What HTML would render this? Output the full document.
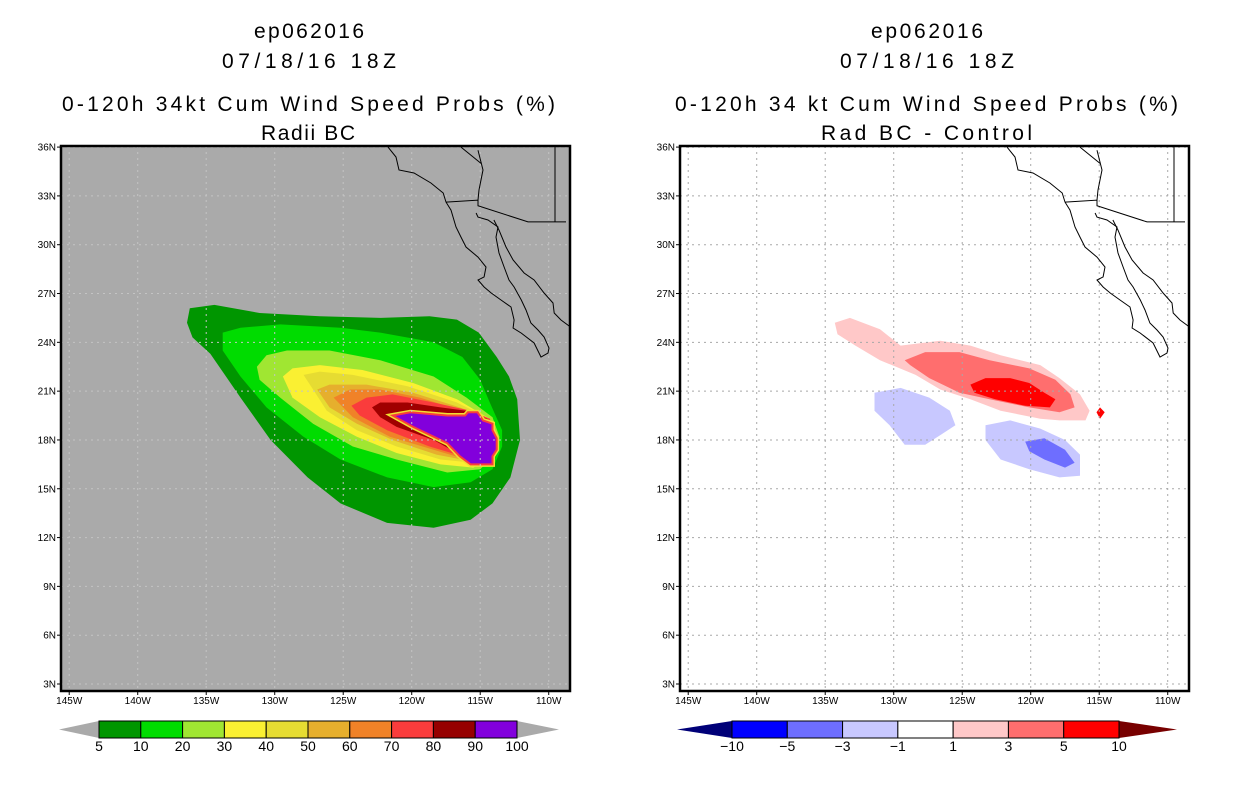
<!DOCTYPE html>
<html><head><meta charset="utf-8"><style>
html,body{margin:0;padding:0;background:#fff}
svg{display:block}
text{font-family:"Liberation Sans",sans-serif}
</style></head><body>
<svg id="fig" width="1236" height="800" viewBox="0 0 1236 800" xmlns="http://www.w3.org/2000/svg">
<rect width="1236" height="800" fill="#fff"/>
<g id="titles">
<text x="254" y="38" font-size="21" textLength="110">ep062016</text>
<text x="222" y="68" font-size="21" textLength="174">07/18/16 18Z</text>
<text x="62" y="111" font-size="21" textLength="493">0-120h 34kt Cum Wind Speed Probs (%)</text>
<text x="261" y="140" font-size="21" textLength="94">Radii BC</text>
<text x="871" y="38" font-size="21" textLength="112">ep062016</text>
<text x="840" y="68" font-size="21" textLength="174">07/18/16 18Z</text>
<text x="675" y="111" font-size="21" textLength="503">0-120h 34 kt Cum Wind Speed Probs (%)</text>
<text x="821" y="140" font-size="21" textLength="211">Rad BC - Control</text>
</g>
</svg>
<script>
// ---- axis ticks ----
const lonTicks = [-145,-140,-135,-130,-125,-120,-115,-110];
const lonLabels = ["145W","140W","135W","130W","125W","120W","115W","110W"];
const latTicks = [3,6,9,12,15,18,21,24,27,30,33,36];
const latLabels = ["3N","6N","9N","12N","15N","18N","21N","24N","27N","30N","33N","36N"];

// ---- left panel: cumulative probability contours (lon,lat) ----
const probLevels = [5,10,20,30,40,50,60,70,80,100];
const probColors = ["#009600","#00dc00","#a0e632","#faf032","#e6dc32","#e6af2d","#f08228","#fa3c3c","#a00000","#8200dc"];
const prob5 = [[-136.2,26.1],[-134.4,26.3],[-131.1,25.8],[-126.7,25.6],[-122.3,25.5],[-118.7,25.6],[-116.7,25.4],[-115.1,24.6],[-113.8,23.1],[-112.9,21.9],[-112.3,20.5],[-112.1,18.0],[-112.8,15.7],[-114.1,14.1],[-115.7,13.1],[-118.4,12.6],[-121.8,12.9],[-125.2,14.1],[-127.6,15.7],[-130.3,18.0],[-132.5,20.6],[-134.7,23.3],[-136.0,24.3],[-136.4,25.2]];
const prob10 = [[-133.8,24.6],[-132.5,24.9],[-129.6,25.1],[-125.2,24.9],[-122.3,24.6],[-118.4,24.0],[-116.3,23.1],[-115.0,21.7],[-114.3,20.3],[-113.4,18.6],[-113.4,17.6],[-114.1,16.2],[-115.7,15.4],[-118.4,15.1],[-121.8,15.7],[-125.2,16.8],[-127.9,18.2],[-130.6,20.0],[-132.5,21.9],[-133.8,23.5]];
const prob20 = [[-131.3,22.5],[-130.6,23.2],[-129.1,23.5],[-126.0,23.5],[-122.3,22.9],[-118.4,21.9],[-116.0,20.6],[-114.1,19.4],[-113.6,18.2],[-113.8,17.2],[-115.0,16.2],[-117.4,16.0],[-121.1,16.8],[-124.3,17.6],[-127.2,19.0],[-129.6,20.6],[-131.1,21.7]];
const prob30 = [[-129.4,21.9],[-128.7,22.4],[-126.7,22.6],[-123.6,22.3],[-119.9,21.5],[-116.7,20.5],[-114.5,19.4],[-113.7,18.2],[-114.1,17.0],[-115.5,16.3],[-117.9,16.5],[-121.1,17.2],[-124.0,18.2],[-126.7,19.4],[-128.7,20.6]];
const prob40 = [[-127.9,22.0],[-126.7,22.2],[-124.3,22.0],[-120.3,21.3],[-116.7,20.3],[-114.3,19.3],[-113.8,18.2],[-114.1,17.0],[-115.5,16.6],[-117.9,16.8],[-121.1,17.6],[-124.0,18.6],[-126.2,19.8],[-127.2,21.1]];
const prob50 = [[-126.9,21.1],[-126.0,21.4],[-123.3,21.4],[-119.9,20.9],[-116.5,20.0],[-114.3,19.3],[-113.8,18.2],[-114.1,17.0],[-115.7,16.7],[-118.2,17.1],[-121.4,18.0],[-124.0,19.0],[-126.0,20.0]];
const prob60 = [[-125.7,20.6],[-124.5,21.1],[-122.3,21.1],[-119.4,20.6],[-116.3,19.8],[-114.3,19.3],[-113.8,18.2],[-114.1,17.0],[-116.0,16.8],[-118.4,17.4],[-121.6,18.2],[-124.3,19.4]];
const prob70 = [[-124.4,20.1],[-123.3,20.6],[-121.4,20.8],[-118.4,20.3],[-115.7,19.8],[-114.3,19.3],[-113.8,18.2],[-114.1,16.8],[-116.3,17.0],[-118.7,17.6],[-121.8,18.6],[-123.8,19.5]];
const prob80 = [[-122.9,20.0],[-122.3,20.3],[-120.3,20.3],[-117.9,20.0],[-116.0,19.8],[-114.5,19.3],[-113.9,18.2],[-114.3,16.8],[-115.7,16.5],[-116.7,17.2],[-118.4,18.0],[-121.1,18.8],[-122.3,19.4]];
const prob100 = [[-121.4,19.5],[-120.1,19.7],[-117.4,19.5],[-116.1,19.5],[-115.9,19.7],[-115.2,19.7],[-114.8,19.2],[-114.1,19.0],[-114.1,18.6],[-113.8,18.1],[-113.8,17.4],[-114.1,17.0],[-114.1,16.5],[-115.7,16.5],[-116.5,17.0],[-117.4,17.8],[-119.9,18.8]];
const probPolys = [prob5,prob10,prob20,prob30,prob40,prob50,prob60,prob70,prob80,prob100];

// ---- right panel: difference contours ----
const diffLevels = [-10,-5,-3,-1,1,3,5,10];
const diffColors = ["#000078","#0000ff","#6e6eff","#c8c8ff","#ffffff","#ffc8c8","#ff6e6e","#ff0000","#780000"];
const diffPos1 = [[-134.3,25.2],[-133.2,25.5],[-131.0,24.8],[-129.5,23.8],[-126.6,24.1],[-124.4,23.8],[-122.2,23.2],[-119.3,22.6],[-117.9,21.8],[-116.4,20.8],[-115.7,19.8],[-116.0,19.2],[-117.9,19.2],[-119.3,19.3],[-122.2,19.8],[-124.4,20.5],[-126.6,21.1],[-128.4,22.0],[-131.0,22.9],[-132.8,23.8],[-134.1,24.5]];
const diffPos3 = [[-129.2,22.9],[-127.7,23.4],[-125.2,23.4],[-123.0,22.9],[-120.1,22.4],[-118.2,21.7],[-117.1,20.8],[-116.8,20.0],[-117.9,19.7],[-120.1,20.0],[-123.0,20.5],[-125.2,20.9],[-127.4,21.8],[-128.8,22.6]];
const diffPos5 = [[-124.4,21.4],[-123.3,21.8],[-121.5,21.8],[-120.1,21.5],[-119.0,20.9],[-118.2,20.5],[-118.6,20.0],[-120.4,20.1],[-122.6,20.5],[-124.1,20.9]];
const diffSpot = [[-115.2,19.7],[-114.94,20.0],[-114.6,19.7],[-114.94,19.3]];
const diffNeg1a = [[-131.4,20.9],[-129.5,21.2],[-127.4,20.6],[-125.9,19.8],[-125.5,18.9],[-126.6,18.3],[-127.7,17.7],[-129.2,17.7],[-130.3,18.9],[-131.4,19.8]];
const diffNeg1b = [[-123.3,18.9],[-121.5,19.2],[-119.3,18.7],[-117.5,18.0],[-116.4,17.1],[-116.4,15.8],[-117.9,15.7],[-120.1,16.2],[-122.2,16.8],[-123.3,18.0]];
const diffNeg3 = [[-120.4,17.9],[-119.0,18.1],[-117.5,17.4],[-116.8,16.6],[-117.5,16.3],[-119.0,16.8],[-120.1,17.3]];

// ---- coastline / borders (lon,lat) ----
const coastPacific = [[-121.73,36.0],[-121.15,35.39],[-120.93,34.59],[-119.83,34.41],[-118.6,33.79],[-117.7,33.18],[-117.5,32.62],[-117.13,32.13],[-116.77,31.09],[-116.4,30.47],[-116.04,29.86],[-115.16,29.24],[-114.58,28.63],[-114.72,28.02],[-115.16,27.83],[-114.72,27.4],[-114.2,27.03],[-113.48,26.6],[-112.75,26.17],[-112.53,25.37],[-112.6,24.88],[-112.0,24.57],[-111.07,23.96],[-110.56,23.1],[-110.05,23.34],[-109.98,23.65],[-110.34,24.33],[-110.78,24.76],[-111.3,25.19],[-111.66,25.99],[-112.0,26.6],[-112.53,27.4],[-112.9,27.83],[-113.26,28.63],[-113.63,29.49],[-113.85,30.47],[-113.7,31.09],[-114.43,31.52],[-115.16,31.7],[-115.3,31.95]];
const coastMainland = [[-114.0,31.52],[-113.63,30.9],[-113.12,29.86],[-112.6,29.06],[-111.8,28.26],[-111.07,27.83],[-110.34,27.03],[-109.69,26.42],[-109.6,25.8],[-109.1,25.37],[-108.5,25.0]];
const riverLine = [[-115.16,35.8],[-114.8,34.59],[-115.09,33.36],[-115.16,32.74]];
const borderUS = [[-117.5,32.62],[-115.16,32.74],[-115.16,32.4],[-111.51,31.4],[-108.74,31.4]];
const borderState = [[-109.54,36.0],[-109.54,31.4]];
const borderDiag = [[-116.4,36.0],[-114.94,35.0]];

const NS = "http://www.w3.org/2000/svg";
const svg = document.getElementById("fig");
const BOX_T = 146, BOX_B = 691, BOX_W = 509;
function mk(tag, attrs, parent){const e=document.createElementNS(NS,tag);for(const k in attrs)e.setAttribute(k,attrs[k]);(parent||svg).appendChild(e);return e;}
function projX(x0){return lon => x0 + (lon + 145.6) * 13.7;}
function projY(lat){return 684 - (lat - 3) * 16.27;}
function pts(arr, px){return arr.map(p => px(p[0]).toFixed(1) + "," + projY(p[1]).toFixed(1)).join(" ");}

function panel(x0, bg, id){
  const px = projX(x0);
  const g = mk("g", {});
  
  
  const cp = mk("clipPath", {id: id + "-clip"}, g);
  mk("rect", {x: x0, y: BOX_T, width: BOX_W, height: BOX_B - BOX_T}, cp);
  const bgR = mk("rect", {x: x0, y: BOX_T, width: BOX_W, height: BOX_B - BOX_T, fill: bg}, g);
  
  
  const inner = mk("g", {"clip-path": "url(#" + id + "-clip)"}, g);
  return {px, g, inner};
}
function drawGrid(P, x0, gridColor){
  lonTicks.forEach((lon, i) => {
    const x = P.px(lon);
    const l = mk("line", {x1: x, x2: x, y1: BOX_T, y2: BOX_B, stroke: gridColor, "stroke-width": 1, "stroke-dasharray": "2,4"}, P.inner);
    
    
    mk("line", {x1: x, x2: x, y1: BOX_B, y2: BOX_B + 4, stroke: "#000"}, P.g);
    const tx = mk("text", {x: x, y: 704, "font-size": 10, "text-anchor": "middle"}, P.g);
    tx.textContent = lonLabels[i];
    
    
  });
  latTicks.forEach((lat, i) => {
    const y = projY(lat);
    const l = mk("line", {x1: x0, x2: x0 + BOX_W, y1: y, y2: y, stroke: gridColor, "stroke-width": 1, "stroke-dasharray": "2,4"}, P.inner);
    
    
    mk("line", {x1: x0 - 4, x2: x0, y1: y, y2: y, stroke: "#000"}, P.g);
    const tx = mk("text", {x: x0 - 5, y: y + 3.5, "font-size": 10, "text-anchor": "end"}, P.g);
    tx.textContent = latLabels[i];
    
    
  });
}
function drawCoast(P){
  [coastPacific, coastMainland, riverLine, borderUS, borderState, borderDiag].forEach(a => {
    const l = mk("polyline", {points: pts(a, P.px), fill: "none", stroke: "#000", "stroke-width": 1}, P.inner);
    
    
  });
}
function frame(x0){
  const f = mk("rect", {x: x0, y: BOX_T, width: BOX_W, height: BOX_B - BOX_T, fill: "none", stroke: "#000", "stroke-width": 2.5});
  
  
}

// LEFT PANEL
const L = panel(61, "#aaaaaa", "left");
probPolys.forEach((poly, i) => {
  const isTop = i === probPolys.length - 1;
  if (isTop) mk("polygon", {points: pts(poly, L.px), fill: "none", stroke: "#f0e030", "stroke-width": 5}, L.inner);
  const p = mk("polygon", {points: pts(poly, L.px), fill: probColors[i], stroke: isTop ? "#fa3c3c" : "none", "stroke-width": 2}, L.inner);
  
  
});
drawGrid(L, 61, "#c4c4c4");
drawCoast(L);
frame(61);

// RIGHT PANEL
const R = panel(680, "#ffffff", "right");
const diffPolys = [[diffPos1,5],[diffPos3,6],[diffPos5,7],[diffNeg1a,3],[diffNeg1b,3],[diffNeg3,2],[diffSpot,7]];
diffPolys.forEach(([poly, ci]) => {
  const p = mk("polygon", {points: pts(poly, R.px), fill: diffColors[ci]}, R.inner);
  
  
});
drawGrid(R, 680, "#a8a8a8");
drawCoast(R);
frame(680);

// COLORBARS
function colorbar(left, right, levels, colors, ends, id){
  const n = colors.length - (ends ? 2 : 0);
  const w = (right - left) / n;
  const y0 = 721, y1 = 738, ym = 729.5;
  const g = mk("g", {});
  
  
  const lc = ends ? colors[0] : "#aaaaaa", rc = ends ? colors[colors.length - 1] : "#aaaaaa";
  const lt = mk("polygon", {points: `${left - (ends ? 55 : 40)},${ym} ${left},${y0} ${left},${y1}`, fill: lc}, g);
  
  
  const rt = mk("polygon", {points: `${right + (ends ? 58 : 42)},${ym} ${right},${y0} ${right},${y1}`, fill: rc}, g);
  
  
  for (let i = 0; i < n; i++){
    const c = ends ? colors[i + 1] : colors[i];
    const r = mk("rect", {x: left + i * w, y: y0, width: w, height: y1 - y0, fill: c, stroke: "#000", "stroke-width": 1}, g);
    
    
  }
  levels.forEach((lv, i) => {
    const t = mk("text", {x: left + i * w, y: 751, "font-size": 14, "text-anchor": "middle"}, g);
    t.textContent = String(lv).replace("-", "\u2212");
    
    
  });
}
colorbar(99, 517, [5,10,20,30,40,50,60,70,80,90,100], ["#009600","#00dc00","#a0e632","#faf032","#e6dc32","#e6af2d","#f08228","#fa3c3c","#960000","#8200dc"], false, "left-colorbar");
colorbar(732, 1119, diffLevels, diffColors, true, "right-colorbar");
</script>
</body></html>
